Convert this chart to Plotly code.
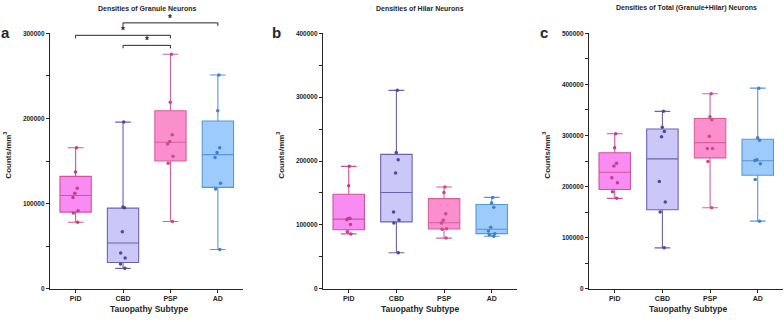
import plotly.graph_objects as go

# ---------------- data ----------------
categories = ["PiD", "CBD", "PSP", "AD"]

# Panel a: granule neurons (box stats: lower whisker, q1, median, q3, upper whisker)
granule_stats = {
    "PiD": [78000, 90000, 109500, 132000, 165500],
    "CBD": [23800, 30700, 53700, 94600, 195700],
    "PSP": [79000, 150000, 172000, 209000, 275500],
    "AD":  [46000, 119000, 157500, 197000, 251000],
}
granule_points = {
    "PiD": [165500, 137000, 118000, 112000, 107000, 91500, 89000, 78000],
    "CBD": [195700, 96000, 95000, 67000, 42000, 36000, 29000, 24000],
    "PSP": [275500, 219000, 181000, 173000, 170000, 155500, 147500, 79000],
    "AD":  [251000, 209000, 165500, 160000, 154000, 124000, 117000, 46000],
}

# Panel b: hilar neurons
hilar_stats = {
    "PiD": [85800, 92400, 109000, 148000, 191600],
    "CBD": [56200, 104700, 150700, 210400, 310700],
    "PSP": [79200, 93500, 103200, 141000, 159400],
    "AD":  [82200, 86300, 93000, 131800, 143000],
}
hilar_points = {
    "PiD": [191600, 161400, 110500, 108000, 110000, 100700, 89000, 85800],
    "CBD": [310700, 213500, 201800, 181300, 120000, 107700, 102700, 56200],
    "PSP": [159400, 150700, 117500, 107300, 102700, 94000, 93000, 79200],
    "AD":  [143000, 134400, 127700, 96100, 90400, 86000, 84500, 82200],
}

# Panel c: total neurons
total_stats = {
    "PiD": [176900, 194100, 228000, 266300, 303300],
    "CBD": [79900, 154600, 254200, 312800, 347300],
    "PSP": [158400, 256100, 286100, 333300, 381800],
    "AD":  [132200, 222200, 250400, 292500, 392700],
}
total_points = {
    "PiD": [303300, 275900, 245800, 240000, 217000, 207500, 189700, 176900],
    "CBD": [347300, 316100, 307800, 297500, 210100, 169900, 150000, 79900],
    "PSP": [381800, 336600, 330800, 298300, 274500, 274500, 249000, 158400],
    "AD":  [392700, 295600, 290600, 252300, 251000, 244600, 214000, 132200],
}

panel_titles = ["Densities of Granule Neurons", "Densities of Hilar Neurons",
                "Densities of Total (Granule+Hilar) Neurons"]
panel_letters = ["a", "b", "c"]
y_max = [300000, 400000, 500000]
tick_step = 50000
label_step = 100000

# significance brackets on panel a: (from, to, level)
brackets = [("PiD", "PSP", 297700), ("CBD", "PSP", 285900), ("CBD", "AD", 312300)]
bracket_text = "*"

# ---------------- styles ----------------
fills = {"PiD": "#f98cf2", "CBD": "#cbc8f8", "PSP": "#fb8ecd", "AD": "#9dcbfb"}
lines = {"PiD": "#d4509a", "CBD": "#6a62b0", "PSP": "#d7609c", "AD": "#5597dc"}
marks = {"PiD": "#c23f86", "CBD": "#4f4798", "PSP": "#c84a88", "AD": "#3f80c8"}

W, H = 784, 322
FONT = "Liberation Sans, Arial, sans-serif"
AX = "#262626"

x_px = [(50, 243), (323, 517), (589, 783)]
y_dom = [1 - 291 / H, 1 - 30 / H]

fig = go.Figure()

datasets = [(granule_stats, granule_points), (hilar_stats, hilar_points),
            (total_stats, total_points)]

for p, (stats, pts) in enumerate(datasets):
    xa = "x" if p == 0 else f"x{p+1}"
    ya = "y" if p == 0 else f"y{p+1}"
    for c in categories:
        lo, q1, med, q3, hi = stats[c]
        fig.add_trace(go.Box(
            x=[c], q1=[q1], median=[med], q3=[q3], lowerfence=[lo], upperfence=[hi],
            fillcolor=fills[c], line=dict(color=lines[c], width=1.1),
            whiskerwidth=0.5, width=0.66, boxpoints=False,
            xaxis=xa, yaxis=ya, showlegend=False, name=c))
        fig.add_trace(go.Box(
            x=[c] * len(pts[c]), y=pts[c], boxpoints="all", jitter=0.25, pointpos=0,
            marker=dict(color=marks[c], size=3.5),
            fillcolor="rgba(0,0,0,0)", line=dict(color="rgba(0,0,0,0)", width=0),
            width=0.66, xaxis=xa, yaxis=ya, showlegend=False, name=c))

layout = dict(
    width=W, height=H, margin=dict(l=0, r=0, t=0, b=0),
    paper_bgcolor="white", plot_bgcolor="white", boxmode="overlay",
    font=dict(family=FONT, color=AX), showlegend=False,
)

annotations = []
shapes = []
for p in range(3):
    sfx = "" if p == 0 else str(p + 1)
    x0, x1 = x_px[p]
    tv = list(range(0, y_max[p] + 1, tick_step))
    tt = [str(v) if v % label_step == 0 else " " for v in tv]
    layout["xaxis" + sfx] = dict(
        domain=[x0 / W, x1 / W], anchor="y" + sfx, type="category",
        categoryorder="array", categoryarray=categories, range=[-0.54, 3.53],
        showline=True, linecolor=AX, linewidth=1.2, ticks="outside", ticklen=3,
        tickwidth=1, tickcolor=AX, showgrid=False, zeroline=False,
        tickfont=dict(size=7, family=FONT, weight="bold", color=AX), fixedrange=True)
    layout["yaxis" + sfx] = dict(
        domain=y_dom, anchor="x" + sfx, range=[0, y_max[p]],
        tickvals=tv, ticktext=tt, showline=True, linecolor=AX, linewidth=1.2,
        ticks="outside", ticklen=3, tickwidth=1, tickcolor=AX, showgrid=False,
        zeroline=False, tickfont=dict(size=6.5, family=FONT, weight="bold", color=AX),
        fixedrange=True)
    # panel title
    annotations.append(dict(text=panel_titles[p], x=[147, 420, 686][p] / W, y=1 - 4.5 / H,
                            xref="paper", yref="paper", showarrow=False, xanchor="center",
                            yanchor="middle", font=dict(size=7, family=FONT, weight="bold", color=AX)))
    # panel letter
    annotations.append(dict(text=panel_letters[p], x=[5, 276, 544][p] / W, y=1 - 29 / H,
                            xref="paper", yref="paper", showarrow=False, xanchor="center",
                            yanchor="middle", font=dict(size=15, family=FONT, weight="bold", color=AX)))
    # y title
    annotations.append(dict(text="Counts/mm<sup>3</sup>", x=[7, 280, 546][p] / W, y=1 - 155 / H,
                            xref="paper", yref="paper", showarrow=False, textangle=-90,
                            xanchor="center", yanchor="middle",
                            font=dict(size=8, family=FONT, weight="bold", color=AX)))
    # x title
    annotations.append(dict(text="Tauopathy Subtype", x=[149, 420, 688][p] / W, y=1 - 312 / H,
                            xref="paper", yref="paper", showarrow=False, xanchor="center",
                            yanchor="middle", font=dict(size=8.5, family=FONT, weight="bold", color=AX)))

# brackets on panel a (drawn relative to the y domain so they can sit above the axis top)
drop = 3500
for a, b, lvl in brackets:
    i, j = categories.index(a), categories.index(b)
    yl = lvl / y_max[0]
    yd = (lvl - drop) / y_max[0]
    for (xs, xe, ys, ye) in [(i, j, yl, yl), (i, i, yl, yd), (j, j, yl, yd)]:
        shapes.append(dict(type="line", xref="x", yref="y domain", x0=xs, x1=xe, y0=ys, y1=ye,
                           line=dict(color=AX, width=1)))
    annotations.append(dict(text=bracket_text, xref="x", yref="y domain", x=(i + j) / 2, y=yl,
                            showarrow=False, xanchor="center", yanchor="bottom", yshift=-3,
                            font=dict(size=10, family=FONT, weight="bold", color=AX)))

layout["annotations"] = annotations
layout["shapes"] = shapes
fig.update_layout(**layout)
fig.write_html("out.html")
